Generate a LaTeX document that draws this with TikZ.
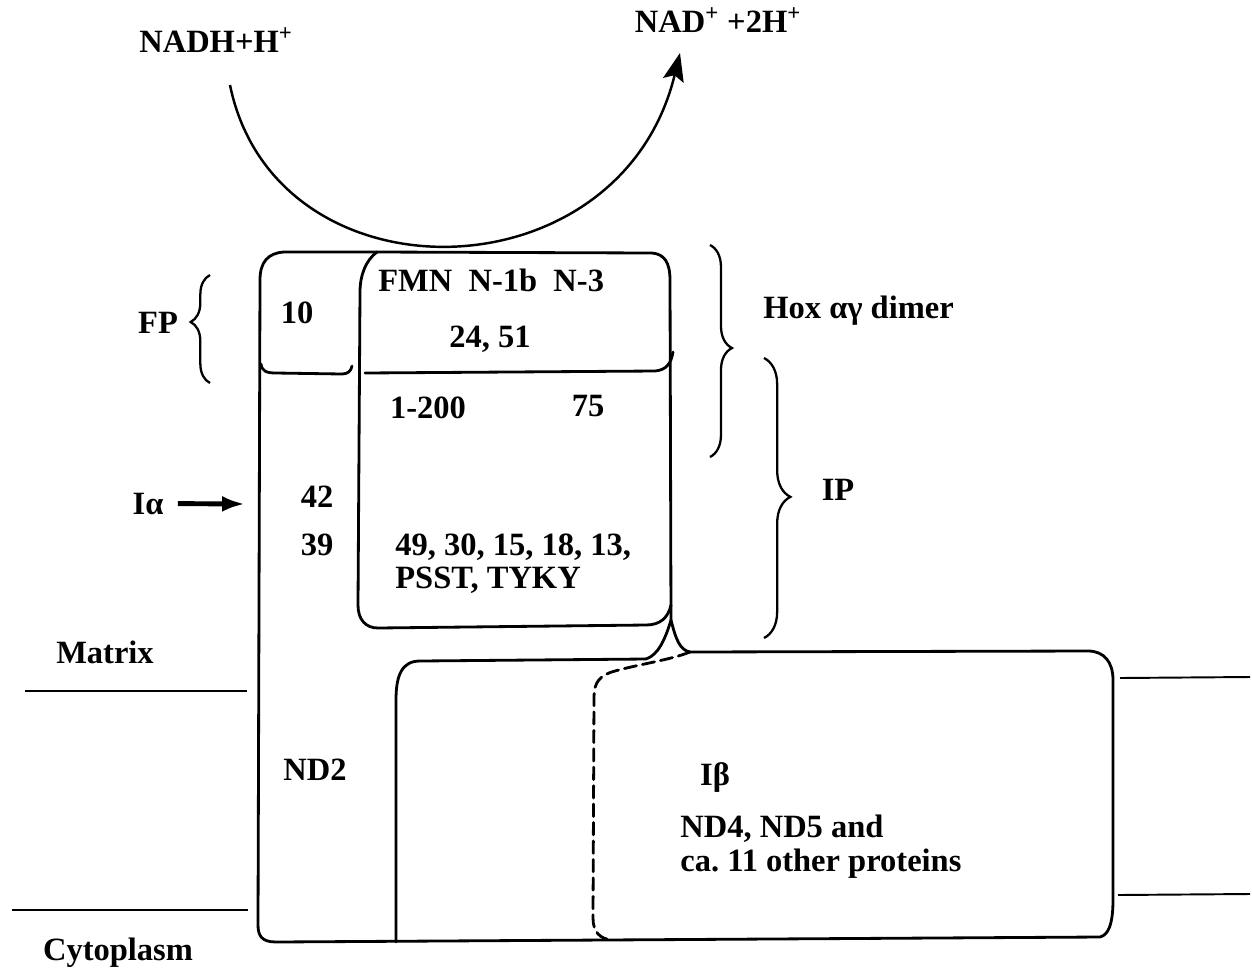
\documentclass[tikz,border=0pt]{standalone}
\usepackage{fontspec}
\setmainfont{Liberation Serif}
\usetikzlibrary{arrows.meta,decorations.pathreplacing}
\begin{document}
\frenchspacing
\begin{tikzpicture}[x=0.02cm,y=-0.02cm,
  lbl/.style={font=\fontsize{18.5}{20}\selectfont\bfseries, inner sep=0pt, anchor=base},
  lblw/.style={lbl, anchor=base west},
  wall/.style={line width=1.6pt, line join=round, line cap=round},
  memb/.style={line width=1.1pt},
  brc/.style={line width=1.3pt, decorate, decoration={brace, amplitude=#1}},
]
\useasboundingbox (0,0) rectangle (1252,968);

% membrane lines
\draw[memb] (25,691) -- (247,691);
\draw[memb] (12,910) -- (248,910);
\draw[memb] (1120,678) -- (1250,677);
\draw[memb] (1118,895) -- (1250,894);

% NADH reaction arc
\coordinate (arcstart) at (230,85);
\coordinate (arcend) at (680,53);
\draw[line width=1.4pt, -{Stealth[length=16pt,width=12pt,inset=3pt]}]
  (arcstart) .. controls (275,305) and (620,300) .. (arcend);

% left column (ND2) and bottom outline up to Ibeta box
\draw[wall] (377,252) -- (284,252) .. controls (268,253) and (260,262) .. (260,280)
  -- (258,925) .. controls (258,936) and (262,942) .. (276,942)
  -- (1100,937) .. controls (1108,935) and (1113,925) .. (1113,900)
  -- (1113,680) .. controls (1113,662) and (1104,651) .. (1088,651) -- (690,652);

% separator in left column
\draw[wall] (261,364) .. controls (262,371) and (266,373) .. (276,373)
  -- (342,374) .. controls (348,374) and (351,371) .. (352,366);

% inner box (FP + IP)
\draw[wall] (377,252) -- (652,253) .. controls (664,254) and (670,262) .. (670,280)
  -- (671,620);
\draw[wall] (671,605) .. controls (668,618) and (660,625) .. (646,625)
  -- (378,628) .. controls (366,628) and (358,620) .. (358,605)
  -- (360,292) .. controls (360,275) and (366,260) .. (377,252);

% separator in inner box
\draw[wall] (365,373) -- (655,371) .. controls (666,370) and (671,364) .. (673,352);

% Lambda junction
\draw[wall] (646,659) .. controls (658,655) and (665,640) .. (671,620)
  .. controls (676,640) and (680,650) .. (690,652);

% middle column
\draw[wall] (396,942) -- (396,700) .. controls (396,675) and (402,661) .. (420,661) -- (646,659);

% dashed left edge of Ibeta
\draw[wall, dash pattern=on 7pt off 3.5pt] (690,652) .. controls (670,660) and (640,664) .. (615,671)
  .. controls (600,675) and (594,682) .. (594,697) -- (593,918)
  .. controls (593,932) and (600,939) .. (612,940);

% braces
\draw[brc=11pt, decoration={aspect=0.565}] (210,383) -- (210,275);
\draw[brc=12.5pt, decoration={aspect=0.486}] (710,245) -- (710,457);
\draw[brc=15pt, decoration={aspect=0.496}] (764,358) -- (764,638);

% labels
\node[lbl] (nadh) at (216,52) {NADH+H\textsuperscript{+}};
\node[lbl] (nad) at (718,32) {NAD\textsuperscript{+} +2H\textsuperscript{+}};
\node[lbl] (fp) at (158,333) {FP};
\node[lbl] (ten) at (297,323) {10};
\node[lblw] (fmn) at (378,291) {FMN\ \ N-1b\ \ N-3};
\node[lbl] (tf) at (490,347) {24, 51};
\node[lbl] (oneh) at (428,418) {1-200};
\node[lbl] (sf) at (588,416) {75};
\node[lblw] (hox) at (763,318) {Hox αγ dimer};
\node[lbl] (ip) at (838,500) {IP};
\node[lbl] (ia) at (148,514) {Iα};
\node[lbl] (ft) at (317,507) {42};
\node[lbl] (tn) at (317,555) {39};
\node[lblw] (list1) at (395,555) {49, 30, 15, 18, 13,};
\node[lblw] (list2) at (395,588) {PSST, TYKY};
\node[lbl] (matrix) at (105,663) {Matrix};
\node[lbl] (nd2) at (315,780) {ND2};
\node[lbl] (ib) at (715,785) {Iβ};
\node[lblw] (nd4) at (680,837) {ND4, ND5 and};
\node[lblw] (ca) at (680,871) {ca. 11 other proteins};
\node[lbl] (cyto) at (118,960) {Cytoplasm};

% I alpha arrow
\coordinate (iaend) at (245,504);
\draw[line width=2.8pt, shorten <=8pt, -{Latex[length=13pt,width=9pt]}] (ia.east) -- (iaend);
\end{tikzpicture}
\end{document}
